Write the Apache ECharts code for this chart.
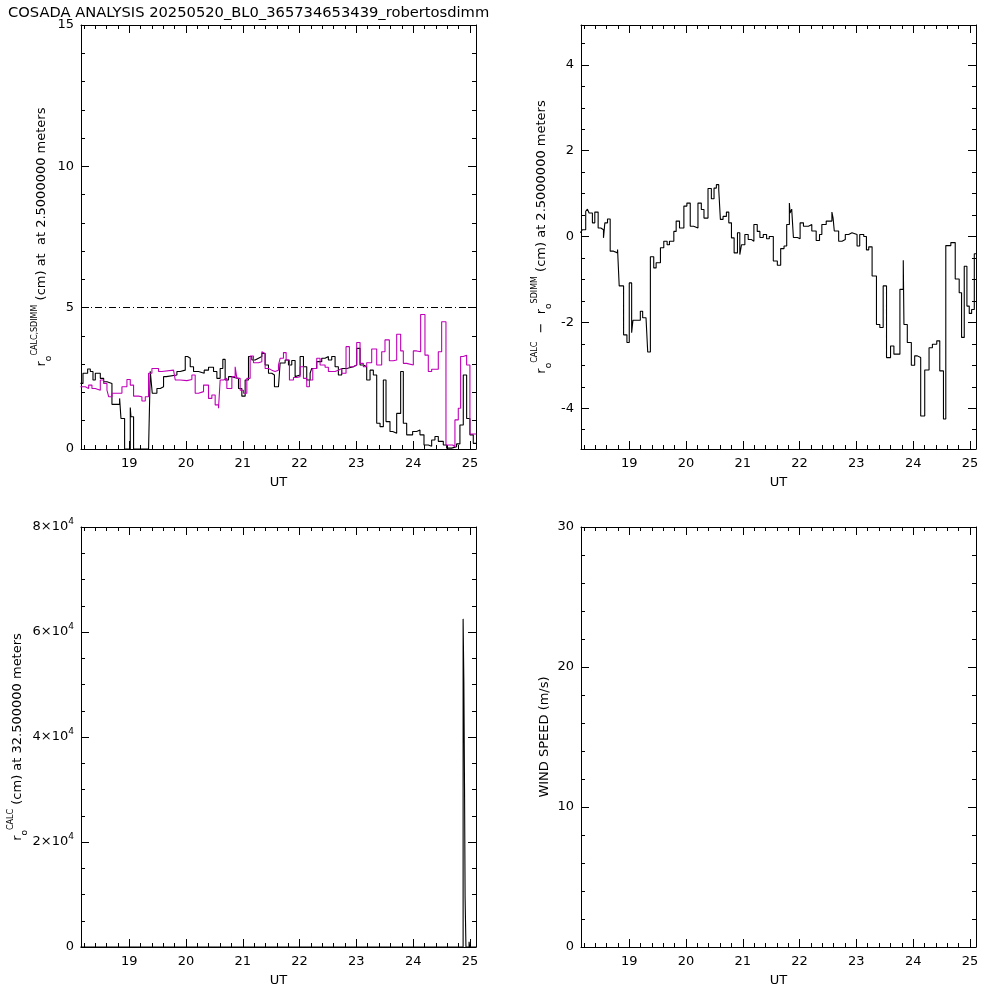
<!DOCTYPE html>
<html><head><meta charset="utf-8">
<script src="https://cdn.jsdelivr.net/npm/echarts@6/dist/echarts.min.js"></script>
<style>html,body{margin:0;padding:0;background:#fff}#c{width:1000px;height:1000px}</style>
</head><body><div id="c"></div>
<script>
// ---------- data ----------
const titleText = 'COSADA ANALYSIS 20250520_BL0_365734653439_robertosdimm';
const utTicks = [19, 20, 21, 22, 23, 24, 25];
const utRange = [18.15, 25.107];

// r0 CALC at 2.5 m (black), [UT, cm]
const r0Calc = [[18.14,2.32],[18.185,2.68],[18.267,2.83],[18.314,2.74],[18.361,2.44],[18.402,2.68],[18.49,2.5],[18.549,2.38],[18.607,2.32],[18.695,1.58],[18.83,1.79],[18.854,1.08],[18.918,0],[19.018,1.47],[19.03,1.14],[19.076,0],[19.34,0.05],[19.37,2.75],[19.405,1.97],[19.487,2.14],[19.546,2.2],[19.604,2.56],[19.651,2.62],[19.839,2.74],[19.898,2.79],[19.986,3.27],[20.027,3.21],[20.074,2.91],[20.132,2.74],[20.22,2.68],[20.32,2.79],[20.396,2.89],[20.484,2.74],[20.543,2.5],[20.601,2.85],[20.648,3.17],[20.689,2.44],[20.748,2.56],[20.807,2.52],[20.865,2.5],[20.924,2.14],[20.983,1.87],[21.041,2.44],[21.1,3.27],[21.159,3.15],[21.217,3.21],[21.276,3.27],[21.335,3.38],[21.393,2.97],[21.452,2.68],[21.51,2.62],[21.557,2.2],[21.628,2.27],[21.657,3.04],[21.745,3.15],[21.804,2.97],[21.862,3.13],[21.921,2.56],[21.95,2.62],[22.009,3.27],[22.068,2.91],[22.126,2.44],[22.185,2.68],[22.214,2.85],[22.302,3.09],[22.39,3.21],[22.449,3.27],[22.507,3.15],[22.566,3.27],[22.625,2.91],[22.683,2.62],[22.742,2.85],[22.83,2.91],[22.947,2.97],[23.006,3.56],[23.065,2.97],[23.123,2.91],[23.182,2.44],[23.241,2.79],[23.299,2.62],[23.358,0.91],[23.417,0.79],[23.475,2.44],[23.522,0.97],[23.592,0.62],[23.639,0.56],[23.71,1.26],[23.78,2.74],[23.827,0.91],[23.886,0.5],[23.991,0.62],[24.062,0.67],[24.12,0.5],[24.191,0.14],[24.267,0.1],[24.326,0.32],[24.384,0.44],[24.443,0.27],[24.531,0.14],[24.59,0.03],[24.678,0.08],[24.765,0.18],[24.824,0.85],[24.883,2.62],[24.942,1.08],[25.0,0.5],[25.059,0.2],[25.11,0.2]];

// r0 SDIMM (magenta), [UT, cm]
const r0Sdimm = [[18.14,2.2],[18.226,2.14],[18.285,2.26],[18.343,2.14],[18.402,2.08],[18.49,2.44],[18.549,2.32],[18.607,2.08],[18.637,1.85],[18.695,1.97],[18.871,2.2],[18.959,2.46],[19.018,2.26],[19.076,1.87],[19.164,1.85],[19.223,1.7],[19.282,1.85],[19.34,2.68],[19.399,2.85],[19.516,2.74],[19.575,2.79],[19.78,2.74],[19.81,2.44],[19.898,2.42],[20.015,2.46],[20.103,2.62],[20.161,1.97],[20.22,2.03],[20.308,2.26],[20.396,1.79],[20.455,1.91],[20.513,1.56],[20.572,1.44],[20.601,2.44],[20.66,2.5],[20.719,2.14],[20.807,2.56],[20.865,2.91],[20.895,2.5],[20.953,2.08],[21.012,1.97],[21.071,2.5],[21.129,3.29],[21.188,3.05],[21.276,3.09],[21.335,3.44],[21.364,3.38],[21.393,2.85],[21.452,2.79],[21.51,2.74],[21.569,2.79],[21.628,2.97],[21.657,3.21],[21.716,3.41],[21.763,3.15],[21.821,2.44],[21.892,2.53],[21.95,2.56],[22.009,2.91],[22.068,2.5],[22.126,2.2],[22.173,2.44],[22.232,2.85],[22.302,3.21],[22.361,2.97],[22.449,2.89],[22.507,2.74],[22.625,2.79],[22.683,2.85],[22.742,2.68],[22.818,3.62],[22.877,2.91],[22.947,2.97],[23.006,3.77],[23.065,3.03],[23.123,2.91],[23.182,3.05],[23.27,3.54],[23.358,2.97],[23.446,3.44],[23.504,3.86],[23.581,3.12],[23.651,3.15],[23.71,4.06],[23.78,3.47],[23.827,3.03],[23.886,2.97],[24.003,3.47],[24.062,3.44],[24.132,4.76],[24.208,3.32],[24.267,2.74],[24.326,2.82],[24.443,3.44],[24.502,4.5],[24.578,0.14],[24.695,0.08],[24.736,1.03],[24.795,1.44],[24.836,3.27],[24.883,3.32],[24.942,2.97],[25.0,0.53],[25.11,0.53]];

// r0 CALC - r0 SDIMM, [UT, cm]
const r0Diff = [[18.14,0.09],[18.174,0.16],[18.233,0.59],[18.263,0.64],[18.292,0.55],[18.351,0.32],[18.393,0.57],[18.452,0.2],[18.499,0.16],[18.546,-0.03],[18.57,0.32],[18.617,0.41],[18.664,-0.34],[18.723,-0.38],[18.794,-0.3],[18.823,-1.15],[18.9,-2.29],[18.959,-2.47],[19.0,-1.08],[19.042,-2.24],[19.065,-1.95],[19.195,-1.74],[19.236,-1.89],[19.295,-1.93],[19.325,-2.69],[19.372,-0.47],[19.431,-0.73],[19.473,-0.61],[19.549,-0.26],[19.608,-0.11],[19.667,-0.19],[19.708,-0.11],[19.785,0.12],[19.826,0.36],[19.885,0.2],[19.962,0.71],[20.015,0.78],[20.074,0.24],[20.133,0.2],[20.21,0.78],[20.269,0.63],[20.316,0.43],[20.387,1.12],[20.446,0.88],[20.493,1.13],[20.534,1.21],[20.576,1.09],[20.605,0.4],[20.652,0.47],[20.711,0.57],[20.753,0.32],[20.8,-0.03],[20.847,-0.38],[20.906,0.09],[20.947,-0.42],[20.977,-0.19],[21.036,0.05],[21.095,-0.07],[21.154,-0.11],[21.195,0.28],[21.254,0.12],[21.301,-0.02],[21.36,0.05],[21.419,-0.05],[21.466,0.0],[21.537,-0.57],[21.608,-0.67],[21.667,-0.28],[21.726,-0.22],[21.773,0.28],[21.82,0.78],[21.832,0.55],[21.861,0.64],[21.891,-0.02],[21.962,-0.05],[22.009,0.32],[22.068,0.24],[22.156,0.28],[22.215,0.13],[22.292,-0.09],[22.351,0.05],[22.392,0.28],[22.469,0.36],[22.569,0.57],[22.59,0.43],[22.611,0.13],[22.688,-0.11],[22.747,-0.07],[22.805,0.05],[22.864,0.09],[22.923,0.05],[23.012,-0.22],[23.059,0.05],[23.13,0.0],[23.177,-0.31],[23.218,-0.24],[23.277,-0.92],[23.354,-2.05],[23.413,-2.12],[23.472,-1.15],[23.531,-2.82],[23.602,-2.55],[23.661,-2.74],[23.767,-1.23],[23.826,-0.55],[23.838,-2.05],[23.897,-2.47],[23.968,-3.0],[24.027,-2.78],[24.074,-2.82],[24.133,-4.18],[24.204,-3.11],[24.28,-2.59],[24.339,-2.51],[24.416,-2.43],[24.469,-3.13],[24.534,-4.25],[24.575,-0.21],[24.664,-0.14],[24.741,-0.99],[24.811,-1.31],[24.853,-2.35],[24.9,-0.69],[24.947,-1.62],[24.988,-1.79],[25.03,-1.7],[25.077,-0.4],[25.11,-0.4]];

// r0 CALC at 32.5 m, [UT, cm]
const r0CalcHigh = [[18.14,0],[24.88,62500],[24.893,50500],[24.905,30300],[24.915,9500],[24.93,0],[24.985,1000],[24.995,0],[25.11,0]];

// wind speed (no data in the reference)
const windSpeed = [];

const refLevel = 5; // dash-dot reference line, top-left panel

const yTicksTL = [0, 5, 10, 15];
const yTicksTR = [-4, -2, 0, 2, 4];
const yTicksBL = [0, 20000, 40000, 60000, 80000];
const yTicksBR = [0, 10, 20, 30];

// ---------- styling / layout ----------
const FONT = 'DejaVu Sans';
const K = '#000';
const MAG = '#c000b8';

function minorList(min, max, step, majors) {
  const out = [];
  for (let v = Math.ceil(min / step - 1e-9) * step; v <= max + 1e-9; v += step) {
    const r = Math.round(v * 1000) / 1000;
    if (!majors.some(m => Math.abs(m - r) < 1e-6)) out.push(r);
  }
  return out;
}

const xAxes = [], yAxes = [];
function addAxes(list, gi, position, min, max, major, minor, labelOpt, nameOpt) {
  const base = {type: 'value', gridIndex: gi, position, min, max, splitLine: {show: false},
    axisPointer: {show: false}};
  const idx = list.length;
  list.push(Object.assign({}, base, {
    axisLine: {show: true, onZero: false, lineStyle: {color: K, width: 1}},
    axisTick: {show: true, inside: true, length: 8, customValues: major, lineStyle: {color: K, width: 1}},
    axisLabel: labelOpt ? Object.assign({show: true, customValues: major, color: K, fontFamily: FONT, fontSize: 13}, labelOpt) : {show: false}
  }, nameOpt || {}));
  list.push(Object.assign({}, base, {
    axisLine: {show: false, onZero: false},
    axisTick: {show: true, inside: true, length: 4, customValues: minor, lineStyle: {color: K, width: 1}},
    axisLabel: {show: false}
  }));
  return idx;
}

const nameRich = {
  r: {fontSize: 13, fontFamily: FONT, color: K, lineHeight: 22},
  t: {fontSize: 13, fontFamily: FONT, color: K, lineHeight: 22},
  sub: {fontSize: 9, fontFamily: FONT, color: K, lineHeight: 11, verticalAlign: 'bottom'},
  sup: {fontSize: 8, fontFamily: FONT, color: K, lineHeight: 11, verticalAlign: 'top'}
};
function yName(text, gap) {
  return {name: text, nameLocation: 'middle', nameGap: gap, nameTextStyle: {rich: nameRich, color: K, fontFamily: FONT, fontSize: 13}};
}
const xName = {name: 'UT', nameLocation: 'middle', nameGap: 27, nameTextStyle: {color: K, fontFamily: FONT, fontSize: 13}};

const grids = [
  {left: 81, top: 25, width: 395, height: 424},
  {left: 581, top: 25, width: 395, height: 424},
  {left: 81, top: 527, width: 395, height: 420},
  {left: 581, top: 527, width: 395, height: 420}
];
const yRanges = [[0, 15], [-4.95, 4.93], [0, 80000], [0, 30]];
const yMajors = [yTicksTL, yTicksTR, yTicksBL, yTicksBR];
const yMinorStep = [1, 0.5, 5000, 2];
const yNames = [
  yName('{r|r}{sub|o}{sup|CALC,SDIMM}{t| (cm) at  at 2.5000000 meters}', 28),
  yName('{r|r}{sub|o}{sup|CALC}{t|  \u2212  }{r|r}{sub|o}{sup|SDIMM}{t| (cm) at 2.5000000 meters}', 28),
  yName('{r|r}{sub|o}{sup|CALC}{t| (cm) at 32.500000 meters}', 45),
  yName('{t|WIND SPEED (m/s)}', 25)
];
const supRich = {
  b: {fontSize: 13, fontFamily: FONT, color: K, lineHeight: 20},
  s: {fontSize: 9, fontFamily: FONT, color: K, lineHeight: 10, verticalAlign: 'top'}
};
const yLabelOpts = [
  {margin: 7},
  {margin: 7},
  {margin: 7, rich: supRich, formatter: v => v === 0 ? '{b|0}' : '{b|' + (v / 10000) + '\u00d710}{s|4}'},
  {margin: 7}
];
const xMinor = minorList(utRange[0], utRange[1], 0.2, utTicks);

const mainX = [], mainY = [];
for (let g = 0; g < 4; g++) {
  mainX.push(addAxes(xAxes, g, 'bottom', utRange[0], utRange[1], utTicks, xMinor, {margin: 8}, xName));
  addAxes(xAxes, g, 'top', utRange[0], utRange[1], utTicks, xMinor, null, null);
  const [ymin, ymax] = yRanges[g];
  const yMinor = minorList(ymin, ymax, yMinorStep[g], yMajors[g]);
  mainY.push(addAxes(yAxes, g, 'left', ymin, ymax, yMajors[g], yMinor, yLabelOpts[g], yNames[g]));
  addAxes(yAxes, g, 'right', ymin, ymax, yMajors[g], yMinor, null, null);
}

function stepLine(data, g, color, extra) {
  return Object.assign({type: 'line', step: 'end', data, xAxisIndex: mainX[g], yAxisIndex: mainY[g],
    symbol: 'none', showSymbol: false, clip: true, silent: true, animation: false,
    lineStyle: {color, width: 1.1}}, extra || {});
}

const option = {
  animation: false,
  backgroundColor: '#fff',
  title: {text: titleText, left: 3, top: 1, textStyle: {fontFamily: FONT, fontSize: 14.7, fontWeight: 'normal', color: K}},
  grid: grids,
  xAxis: xAxes,
  yAxis: yAxes,
  series: [
    stepLine(r0Calc, 0, K, {markLine: {silent: true, symbol: 'none', label: {show: false}, animation: false,
      lineStyle: {color: K, width: 1, type: [7, 3, 1, 3]}, data: [{yAxis: refLevel}]}}),
    stepLine(r0Sdimm, 0, MAG),
    stepLine(r0Diff, 1, K),
    stepLine(r0CalcHigh, 2, K),
    stepLine(windSpeed, 3, K)
  ]
};
const chart = echarts.init(document.getElementById('c'), null, {renderer: 'canvas'});
chart.setOption(option);
</script>
</body></html>
